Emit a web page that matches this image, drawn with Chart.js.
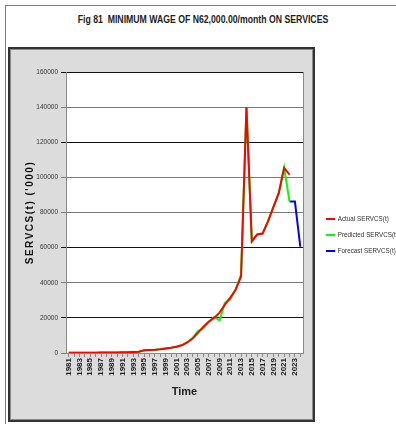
<!DOCTYPE html>
<html>
<head>
<meta charset="utf-8">
<script src="https://cdn.jsdelivr.net/npm/chart.js@4.4.0/dist/chart.umd.min.js"></script>
<style>
  html, body { margin: 0; padding: 0; background: #fff; }
  body { width: 396px; height: 424px; overflow: hidden; position: relative;
         font-family: "Liberation Sans", Arial, sans-serif; }
  #frame { position: absolute; left: 5px; top: 5px; width: 395px; height: 425px;
           border-left: 1px solid #e45050; border-top: 1px solid #e45050; }
  #panel { position: absolute; left: 8px; top: 47px; width: 303px; height: 371px;
           background: #dcdcdc; border: 2px solid #333; box-shadow: inset 0 0 0 1px #8a8a8a; }
  #title { position: absolute; left: 0; top: 13px; width: 406px; text-align: center;
           font-size: 11px; font-weight: bold; color: #222; white-space: pre;
           transform: scaleX(0.79); transform-origin: 203px 0; }
  #chart { position: absolute; left: 0; top: 0; }
  #legend { position: absolute; left: 326px; top: 213px; font-size: 7.5px; color: #333; white-space: nowrap;
            transform: scaleX(0.84); transform-origin: 0 0; }
  #legend div { height: 16px; line-height: 11px; }
  #legend span.sw { display: inline-block; width: 11px; height: 2px; vertical-align: middle; margin-right: 3px; }
</style>
</head>
<body>
<div id="frame"></div>
<div id="panel"></div>
<div id="title">Fig 81  MINIMUM WAGE OF N62,000.00/month ON SERVICES</div>
<canvas id="chart" width="396" height="424"></canvas>
<div id="legend"></div>
<script>
var years = ["1981","1982","1983","1984","1985","1986","1987","1988","1989","1990",
             "1991","1992","1993","1994","1995","1996","1997","1998","1999","2000",
             "2001","2002","2003","2004","2005","2006","2007","2008","2009","2010",
             "2011","2012","2013","2014","2015","2016","2017","2018","2019","2020",
             "2021","2022","2023","2024"];

// SERVCS(t) in '000
var actual = [150, 160, 170, 180, 190, 200, 220, 250, 280, 320,
              380, 450, 550, 700, 1500, 1700, 1900, 2200, 2600, 3000,
              3600, 4400, 6000, 8200, 11500, 15000, 17800, 20000, 23000, 27500,
              31500, 36000, 43500, 140000, 63500, 67500, 68000, 75000, 83000, 91000,
              105500, 101500, null, null];

var predicted = [150, 160, 170, 180, 190, 200, 220, 250, 280, 320,
                 380, 450, 550, 700, 1400, 1700, 1600, 2200, 2600, 3000,
                 3600, 4400, 6000, 8500, 12500, 14000, 17800, 20500, 18500, 28500,
                 30500, 36500, 44500, 140000, 63500, 67500, 68000, 75000, 83000, 91000,
                 105500, 86200, null, null];

var forecast = [null, null, null, null, null, null, null, null, null, null,
                null, null, null, null, null, null, null, null, null, null,
                null, null, null, null, null, null, null, null, null, null,
                null, null, null, null, null, null, null, null, null, null,
                null, 86200, 86200, 60500];

var yTicks = [0, 20000, 40000, 60000, 80000, 100000, 120000, 140000, 160000];
var darkLines = [20000, 60000, 120000, 160000];

Chart.defaults.font.family = '"Liberation Sans", Arial, sans-serif';
Chart.defaults.color = "#222";

var plotBox = {
    id: "plotBox",
    beforeDraw: function (chart) {
        var a = chart.chartArea, c = chart.ctx;
        c.save();
        c.fillStyle = "#fff";
        c.fillRect(a.left, a.top, a.right - a.left, a.bottom - a.top);
        c.restore();
    },
    beforeDatasetsDraw: function (chart) {
        var a = chart.chartArea, c = chart.ctx;
        c.save();
        c.strokeStyle = "#8a8a8a";
        c.lineWidth = 1;
        c.beginPath();
        c.moveTo(a.right + 0.5, a.top);
        c.lineTo(a.right + 0.5, a.bottom);
        c.stroke();
        c.restore();
    }
};

var chart = new Chart(document.getElementById("chart"), {
    type: "line",
    data: {
        labels: years,
        datasets: [
            { label: "Actual SERVCS(t)", data: actual, borderColor: "#ff0000", backgroundColor: "#ff0000" },
            { label: "Predicted SERVCS(t)", data: predicted, borderColor: "#00ff00", backgroundColor: "#00ff00" },
            { label: "Forecast SERVCS(t)", data: forecast, borderColor: "#0000ff", backgroundColor: "#0000ff" }
        ]
    },
    options: {
        responsive: false,
        animation: false,
        layout: { padding: { left: 10, top: 72, right: 93, bottom: 21 } },
        elements: {
            line: { borderWidth: 2, tension: 0, fill: false },
            point: { radius: 0, hoverRadius: 0 }
        },
        plugins: {
            legend: { display: false },
            tooltip: { enabled: false }
        },
        scales: {
            x: {
                type: "category",
                offset: true,
                grid: { display: true, drawOnChartArea: false, drawTicks: true, tickLength: 4, color: "#888" },
                border: { display: true, color: "#8a8a8a" },
                ticks: {
                    autoSkip: false, minRotation: 90, maxRotation: 90, padding: 1,
                    font: { size: 8, weight: "bold" }, color: "#222",
                    callback: function (val, i) { return i % 2 === 0 ? this.getLabelForValue(val) : ""; }
                },
                title: { display: true, text: "Time", font: { size: 11, weight: "bold" }, color: "#222",
                         padding: { top: 0, bottom: 4 } },
                afterFit: function (s) { s.height = 50; }
            },
            y: {
                min: 0, max: 160000,
                afterBuildTicks: function (s) { s.ticks = yTicks.map(function (v) { return { value: v }; }); },
                grid: {
                    drawTicks: true, tickLength: 5,
                    color: function (ctx) { return darkLines.indexOf(ctx.tick.value) >= 0 ? "#111" : "#7a7a7a"; }
                },
                border: { display: true, color: "#8a8a8a" },
                ticks: { padding: 3, font: { size: 6.5 }, color: "#333",
                         callback: function (v) { return String(v); } },
                title: { display: true, text: "SERVCS(t) ('000)", font: { size: 10, weight: "bold" }, color: "#111",
                         padding: { top: 14, bottom: 0 } },
                afterFit: function (s) { s.width = 56; }
            }
        }
    },
    plugins: [plotBox]
});

// the y title in the original is letter-spaced
var yScale = chart.scales.y;
var origTitle = yScale.drawTitle;
yScale.drawTitle = function () {
    var c = this.ctx;
    c.save();
    c.letterSpacing = "1.5px";
    origTitle.apply(this, arguments);
    c.restore();
};
chart.draw();

// legend built from the chart's datasets
var lg = document.getElementById("legend");
chart.data.datasets.forEach(function (ds) {
    var row = document.createElement("div");
    row.innerHTML = '<span class="sw" style="background:' + ds.borderColor + '"></span>' + ds.label;
    lg.appendChild(row);
});
</script>
</body>
</html>
